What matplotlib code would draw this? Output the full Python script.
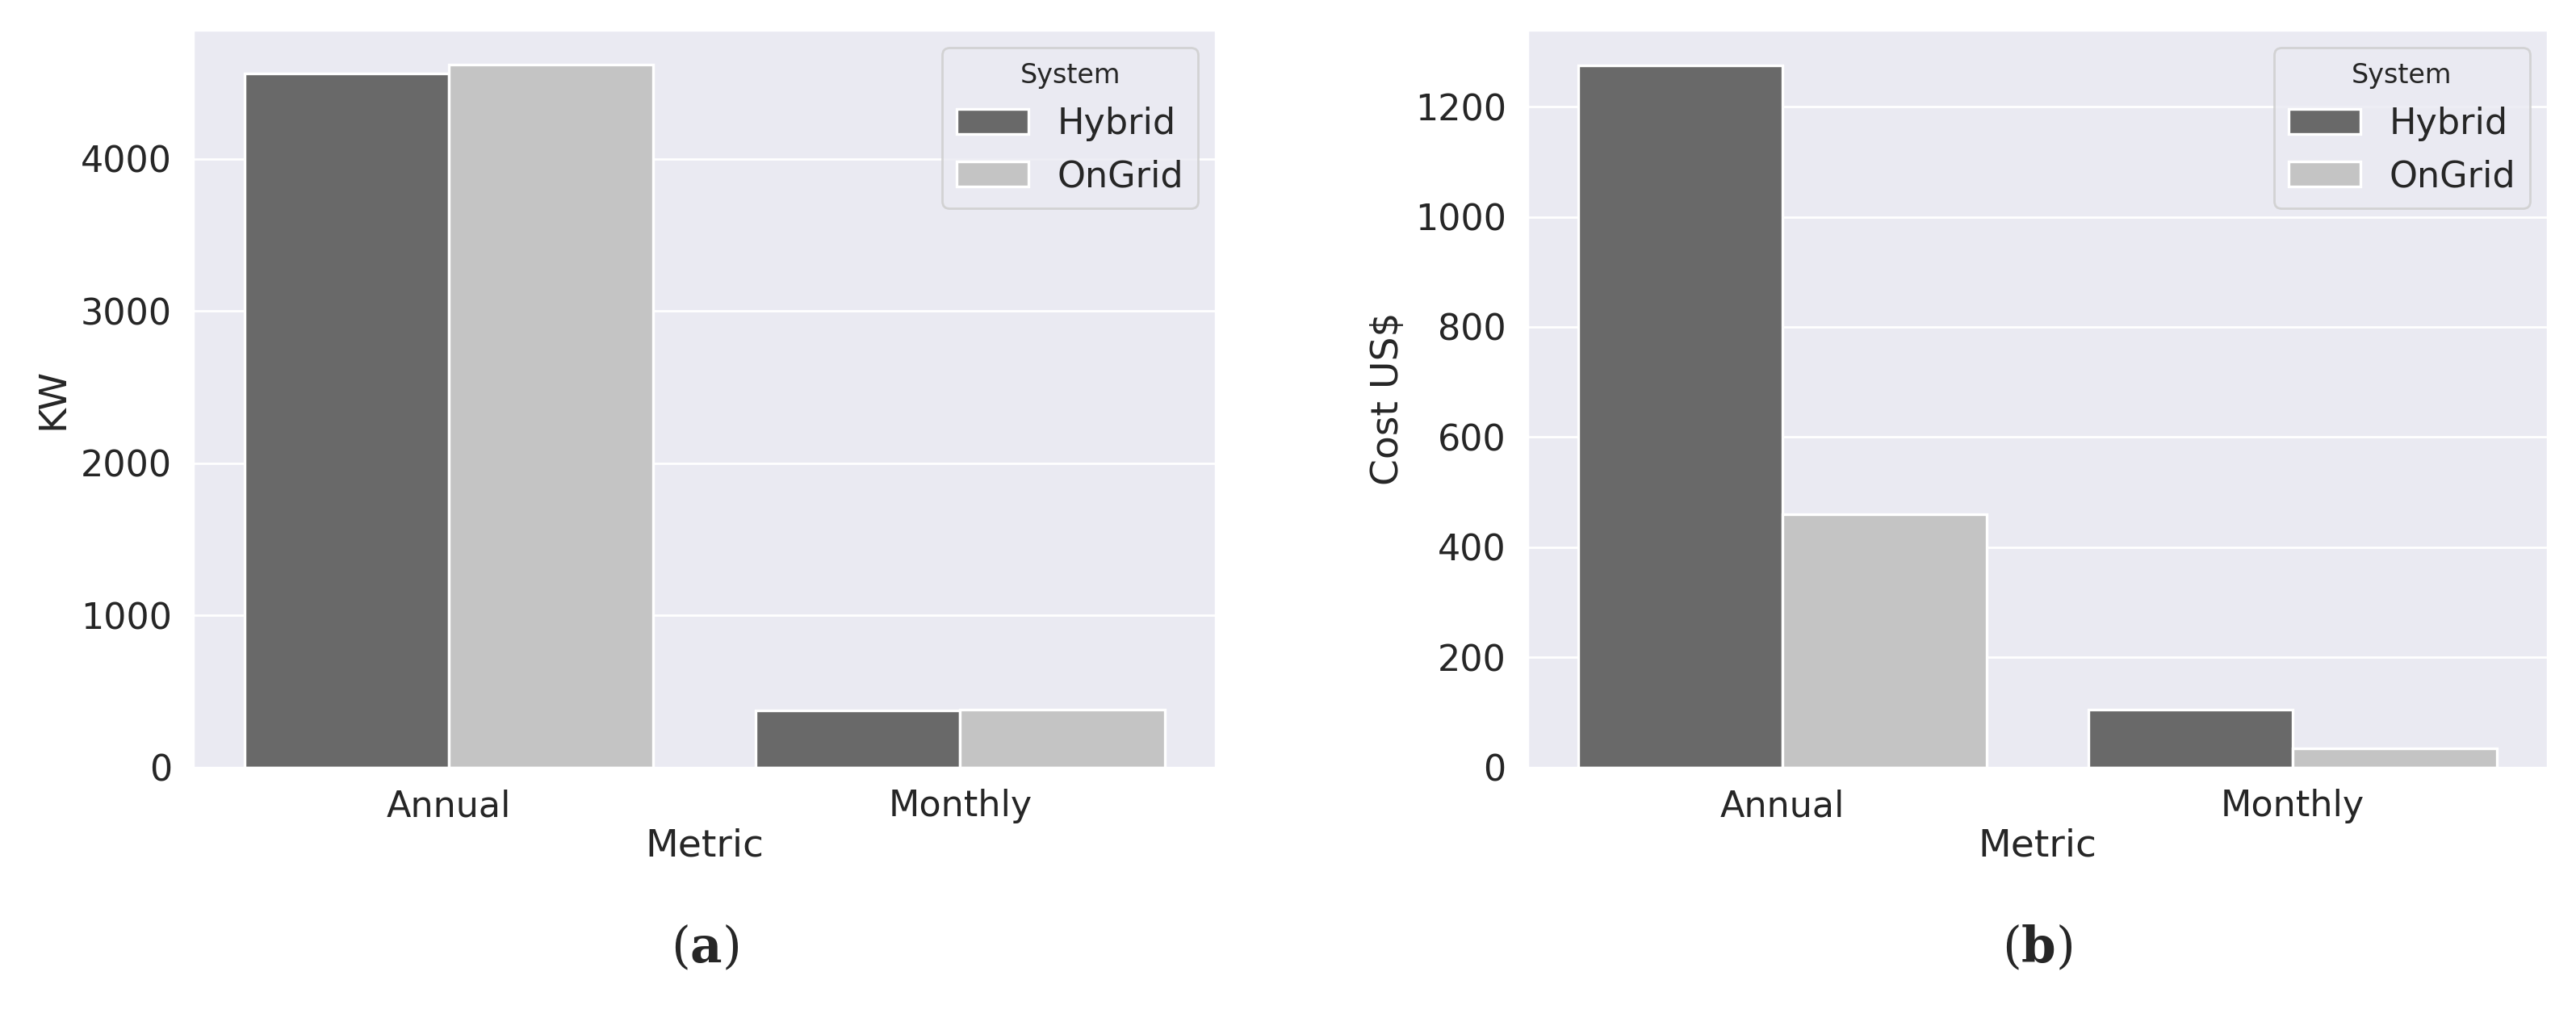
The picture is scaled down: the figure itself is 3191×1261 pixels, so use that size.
import numpy as np
import matplotlib
matplotlib.use("Agg")
import matplotlib.pyplot as plt
import seaborn as sns

sns.set_theme(style="darkgrid")
plt.rcParams['font.family'] = ['DejaVu Sans']
plt.rcParams['mathtext.fontset'] = 'dejavuserif'

metrics = ["Annual", "Monthly"]
systems = ["Hybrid", "OnGrid"]
energy_kw = {"Hybrid": [4560, 375], "OnGrid": [4620, 380]}
cost_usd = {"Hybrid": [1275, 105], "OnGrid": [460, 35]}
colors = {"Hybrid": "#696969", "OnGrid": "#c4c4c4"}

fig = plt.figure(figsize=(15.955, 6.305), dpi=200)
ax1 = fig.add_axes([0.075, 0.246, 0.397, 0.725])
ax2 = fig.add_axes([0.593, 0.246, 0.396, 0.725])

x = np.arange(len(metrics))
w = 0.4
for ax, data, ylabel, tag in [(ax1, energy_kw, "KW", "a"), (ax2, cost_usd, "Cost US$", "b")]:
    for i, s in enumerate(systems):
        ax.bar(x + (i - 0.5) * w, data[s], width=w, color=colors[s],
               edgecolor="white", linewidth=1.2, label=s)
    ax.set_xticks(x)
    ax.set_xticklabels(metrics)
    ax.set_xlim(-0.5, 1.5)
    ax.grid(False, axis="x")
    ax.tick_params(labelsize=16)
    ax.set_xlabel("Metric", fontsize=17, labelpad=2)
    ax.set_ylabel(ylabel, fontsize=17)
    ax.legend(title="System", fontsize=16, title_fontsize=12, loc="upper right")
    ax.text(0.5, -0.245, "(" + r"$\mathbf{" + tag + "}$" + ")", transform=ax.transAxes,
            ha="center", va="center", fontsize=22, family="serif")

ax1.set_ylim(0, 4850)
ax2.set_ylim(0, 1340)

fig.savefig("out.png")
